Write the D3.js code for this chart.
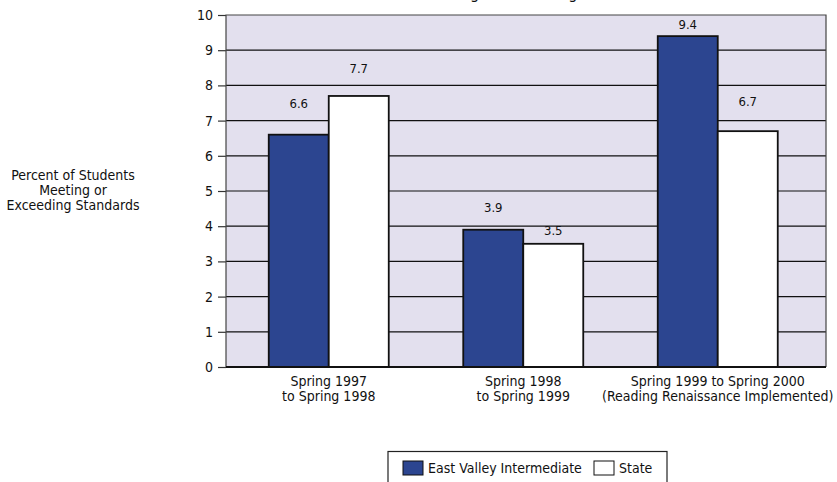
<!DOCTYPE html>
<html><head><meta charset="utf-8">
<script src="https://cdn.jsdelivr.net/npm/d3@7"></script>
<style>
html,body{margin:0;padding:0;background:#fff;}
text{font-family:"DejaVu Sans Condensed","Liberation Sans Narrow",sans-serif;fill:#111;}
</style></head>
<body><svg id="c" width="837" height="482"></svg>
<script>
const title = "Percent of Students Meeting or Exceeding Standards";
const categories = [["Spring 1997","to Spring 1998"],["Spring 1998","to Spring 1999"],["Spring 1999 to Spring 2000","(Reading Renaissance Implemented)"]];
const seriesNames = ["East Valley Intermediate","State"];
const eastValley = [6.6, 3.9, 9.4];
const state = [7.7, 3.5, 6.7];
const yTicks = [0,1,2,3,4,5,6,7,8,9,10];
const yLabel = ["Percent of Students","Meeting or","Exceeding Standards"];

// layout / style
const colors = ["#2c4590","#ffffff"];
const labelGap = [[27,18,7],[23,9,25]];
const L=226, R=826, T=15, B=367;

const svg = d3.select("#c");
const y = d3.scaleLinear().domain([0,10]).range([B,T]);
const x = d3.scalePoint().domain(d3.range(categories.length)).range([231.5,815]).padding(0.5);
const barW = 60;

svg.append("rect").attr("x",L).attr("y",T).attr("width",R-L).attr("height",B-T).attr("fill","#e3e0ee");

// gridlines
svg.append("g").selectAll("line").data(yTicks.filter(d=>d>0&&d<10)).join("line")
  .attr("x1",L).attr("x2",R).attr("y1",d=>y(d)).attr("y2",d=>y(d))
  .attr("stroke","#111").attr("stroke-width",1.2);

// y axis
const ya = svg.append("g").attr("transform",`translate(${L},0)`)
  .call(d3.axisLeft(y).tickValues(yTicks).tickSize(8).tickPadding(5));
ya.select(".domain").remove();
ya.selectAll(".tick line").attr("stroke","#333").attr("stroke-width",1.2);
ya.selectAll(".tick text").attr("font-size",14).style("font-family",null).attr("fill","#111");

// bars
const series = [eastValley, state];
series.forEach((vals,si)=>{
  svg.append("g").selectAll("rect").data(vals).join("rect")
    .attr("x",(d,i)=>x(i)-barW+si*barW).attr("width",barW)
    .attr("y",d=>y(d)).attr("height",d=>B-y(d))
    .attr("fill",colors[si]).attr("stroke","#111").attr("stroke-width",1.8);
  svg.append("g").selectAll("text").data(vals).join("text")
    .attr("x",(d,i)=>x(i)-barW/2+si*barW).attr("y",(d,i)=>y(d)-labelGap[si][i])
    .attr("text-anchor","middle").attr("font-size",13).text(d=>d.toFixed(1));
});

// plot frame
svg.append("path").attr("d",`M${L},${B}V${T}H${R}V${B}`).attr("fill","none").attr("stroke","#444").attr("stroke-width",1.2);
svg.append("line").attr("x1",L).attr("x2",R).attr("y1",B).attr("y2",B).attr("stroke","#111").attr("stroke-width",2);

// x labels
categories.forEach((lines,i)=>{
  const t = svg.append("text").attr("text-anchor","middle").attr("font-size",14);
  lines.forEach((s,k)=>t.append("tspan").attr("x",x(i)).attr("y",386+k*15).text(s));
});

// y label
const yl = svg.append("text").attr("text-anchor","middle").attr("font-size",14);
yLabel.forEach((s,k)=>yl.append("tspan").attr("x",73).attr("y",180+k*15).text(s));

// title (clipped at the top edge, as in the reference)
svg.append("text").attr("x",465).attr("y",-1).attr("text-anchor","middle").attr("font-size",16).text(title);

// legend
const lg = svg.append("g");
lg.append("rect").attr("x",388).attr("y",451.5).attr("width",279).attr("height",40).attr("fill","#fff").attr("stroke","#222").attr("stroke-width",1.2);
const lx = [403, 594];
seriesNames.forEach((n,i)=>{
  lg.append("rect").attr("x",lx[i]).attr("y",461).attr("width",20).attr("height",14).attr("fill",colors[i]).attr("stroke","#111").attr("stroke-width",1);
  lg.append("text").attr("x",lx[i]+25).attr("y",473).attr("font-size",14).text(n);
});
</script></body></html>
